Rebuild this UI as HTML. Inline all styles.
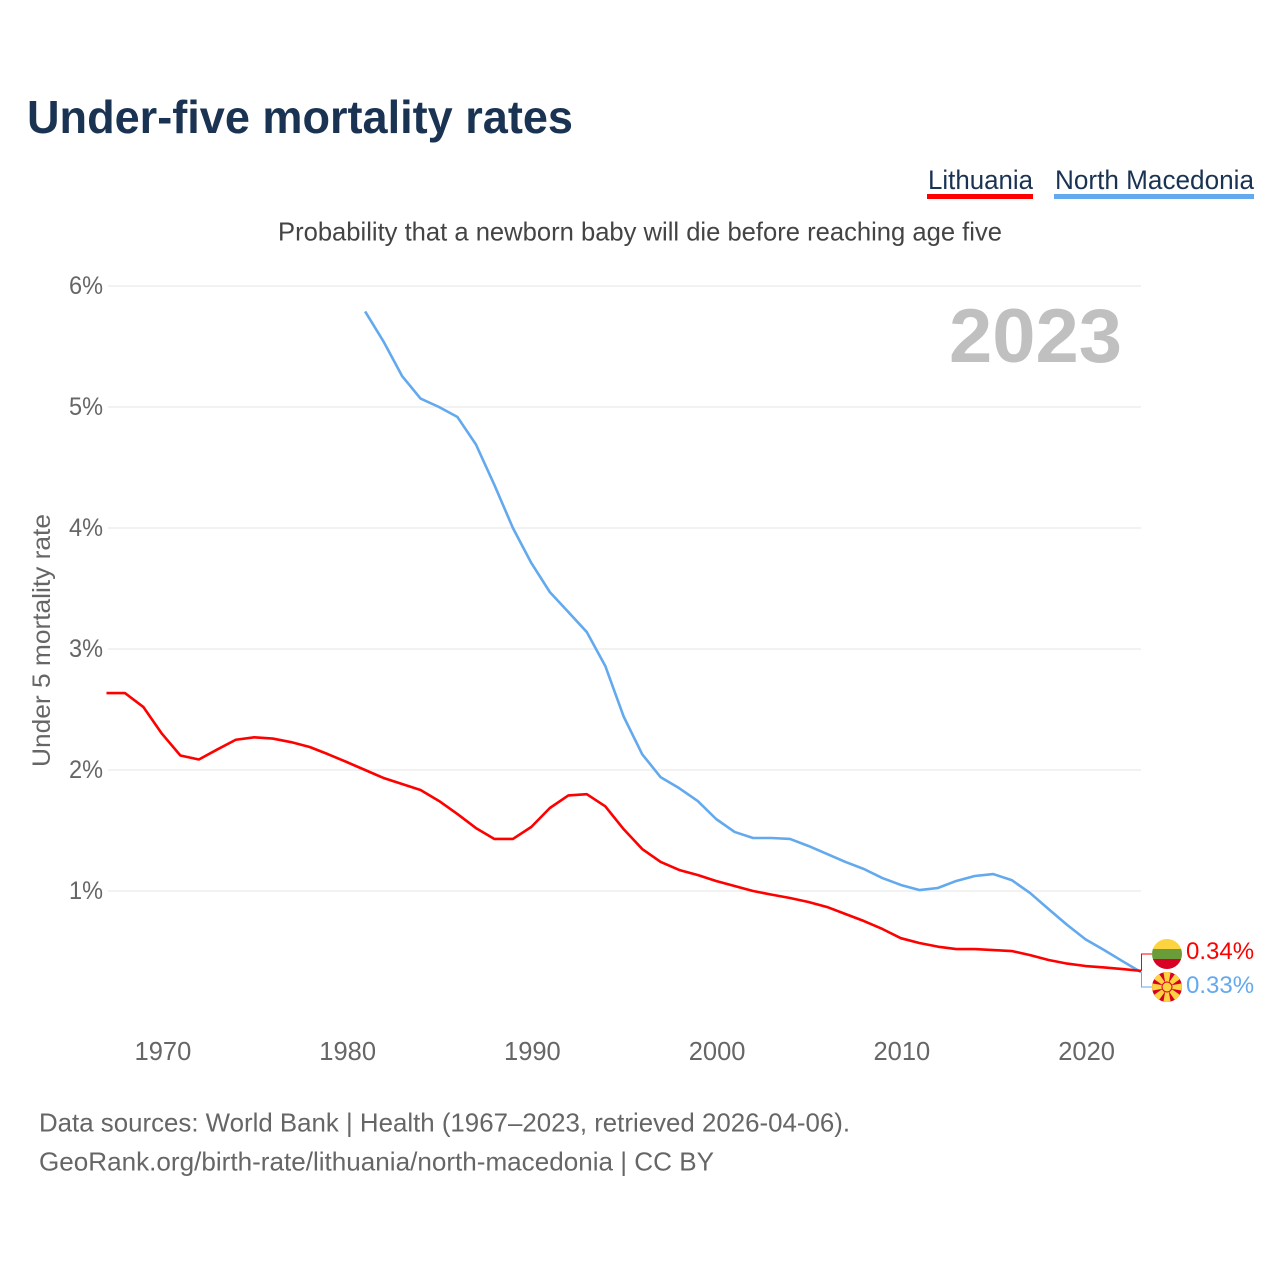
<!DOCTYPE html>
<html lang="en">
<head>
<meta charset="utf-8">
<title>Under-five mortality rates</title>
<style>
html,body{margin:0;padding:0;background:#fff;}
svg{display:block;font-family:"Liberation Sans",sans-serif;}
</style>
</head>
<body>
<svg id="chart" width="1280" height="1280" viewBox="0 0 1280 1280" xmlns="http://www.w3.org/2000/svg">
  <rect width="1280" height="1280" fill="#fff"/>
  <text x="27" y="133" font-size="46" font-weight="700" fill="#1a3353" textLength="546" lengthAdjust="spacingAndGlyphs">Under-five mortality rates</text>

  <g>
    <text x="928" y="189" font-size="27" fill="#1a3353" textLength="105" lengthAdjust="spacingAndGlyphs">Lithuania</text>
    <rect x="927" y="194" width="106" height="5" fill="#ff0000"/>
  </g>
  <g>
    <text x="1055" y="189" font-size="27" fill="#1a3353" textLength="199" lengthAdjust="spacingAndGlyphs">North Macedonia</text>
    <rect x="1054" y="194" width="200" height="5" fill="#63a9ee"/>
  </g>

  <text x="278" y="240.500" font-size="26" fill="#444" textLength="724" lengthAdjust="spacingAndGlyphs">Probability that a newborn baby will die before reaching age five</text>

  <g id="grid"></g>
  <g id="yticks"></g>
  <g id="xticks"></g>

  <text transform="translate(50,767) rotate(-90)" font-size="25" fill="#666" textLength="253" lengthAdjust="spacingAndGlyphs">Under 5 mortality rate</text>

  <text x="949" y="362" font-size="76" font-weight="700" fill="#c0c0c0" textLength="173" lengthAdjust="spacingAndGlyphs">2023</text>

  <g id="series"></g>

  <g id="end-labels">
    <path id="conn-lt" fill="none" stroke="#ff0000" stroke-width="1"/>
    <path id="conn-mk" fill="none" stroke="#63a9ee" stroke-width="1"/>
    <defs>
      <clipPath id="clip-lt"><circle cx="1167" cy="954" r="15"/></clipPath>
      <clipPath id="clip-mk"><circle cx="1167" cy="987" r="15"/></clipPath>
    </defs>
    <g clip-path="url(#clip-lt)">
      <rect x="1152" y="939" width="30" height="10" fill="#fdd33f"/>
      <rect x="1152" y="949" width="30" height="10.500" fill="#6a9d3a"/>
      <rect x="1152" y="959" width="30" height="10" fill="#d80027"/>
    </g>
    <g clip-path="url(#clip-mk)">
      <rect x="1152" y="972" width="30" height="30" fill="#d80027"/>
      <g fill="#fdd33f">
        <polygon points="1166,987 1168,987 1171,970 1163,970"/>
        <polygon points="1166,987 1168,987 1171,970 1163,970" transform="rotate(45 1167 987)"/>
        <polygon points="1166,987 1168,987 1171,970 1163,970" transform="rotate(90 1167 987)"/>
        <polygon points="1166,987 1168,987 1171,970 1163,970" transform="rotate(135 1167 987)"/>
        <polygon points="1166,987 1168,987 1171,970 1163,970" transform="rotate(180 1167 987)"/>
        <polygon points="1166,987 1168,987 1171,970 1163,970" transform="rotate(225 1167 987)"/>
        <polygon points="1166,987 1168,987 1171,970 1163,970" transform="rotate(270 1167 987)"/>
        <polygon points="1166,987 1168,987 1171,970 1163,970" transform="rotate(315 1167 987)"/>
      </g>
      <circle cx="1167" cy="987" r="5.500" fill="#d80027"/>
      <circle cx="1167" cy="987" r="4.500" fill="#fdd33f"/>
    </g>
    <text id="val-lt" x="1186" y="959" font-size="24" fill="#ff0000"></text>
    <text id="val-mk" x="1186" y="993" font-size="24" fill="#63a9ee"></text>
  </g>

  <text x="39" y="1131.500" font-size="26" fill="#666" textLength="811" lengthAdjust="spacingAndGlyphs">Data sources: World Bank | Health (1967–2023, retrieved 2026-04-06).</text>
  <text x="39" y="1170.500" font-size="26" fill="#666" textLength="675" lengthAdjust="spacingAndGlyphs">GeoRank.org/birth-rate/lithuania/north-macedonia | CC BY</text>
</svg>
<script>
const yearsLithuania = [1967,1968,1969,1970,1971,1972,1973,1974,1975,1976,1977,1978,1979,1980,1981,1982,1983,1984,1985,1986,1987,1988,1989,1990,1991,1992,1993,1994,1995,1996,1997,1998,1999,2000,2001,2002,2003,2004,2005,2006,2007,2008,2009,2010,2011,2012,2013,2014,2015,2016,2017,2018,2019,2020,2021,2022,2023];
const valuesLithuania = [2.636,2.636,2.52,2.30,2.12,2.087,2.17,2.25,2.27,2.26,2.23,2.19,2.13,2.066,2.0,1.934,1.884,1.835,1.744,1.636,1.52,1.43,1.43,1.53,1.686,1.79,1.80,1.70,1.51,1.347,1.24,1.174,1.132,1.083,1.041,1.0,0.97,0.942,0.909,0.868,0.81,0.752,0.686,0.61,0.57,0.54,0.52,0.52,0.512,0.504,0.47,0.43,0.40,0.38,0.368,0.355,0.34];
const yearsMacedonia = [1981,1982,1983,1984,1985,1986,1987,1988,1989,1990,1991,1992,1993,1994,1995,1996,1997,1998,1999,2000,2001,2002,2003,2004,2005,2006,2007,2008,2009,2010,2011,2012,2013,2014,2015,2016,2017,2018,2019,2020,2021,2022,2023];
const valuesMacedonia = [5.79,5.54,5.256,5.07,5.0,4.917,4.69,4.355,4.0,3.71,3.47,3.306,3.14,2.86,2.44,2.13,1.94,1.85,1.744,1.595,1.488,1.438,1.438,1.43,1.372,1.306,1.24,1.182,1.107,1.05,1.008,1.025,1.083,1.124,1.14,1.09,0.983,0.85,0.72,0.60,0.512,0.42,0.33];
const yTickValues = [1,2,3,4,5,6];
const xTickValues = [1970,1980,1990,2000,2010,2020];

const NS = 'http://www.w3.org/2000/svg';
const xScale = function (year) { return 106.5 + (year - 1967) * (1141 - 106.5) / 56; };
const yScale = function (v) { return 1012 - v * 121; };

function make(tag, parent) {
  const el = document.createElementNS(NS, tag);
  parent.appendChild(el);
  return el;
}

const gridG = document.getElementById('grid');
const yG = document.getElementById('yticks');
yTickValues.forEach(function (v) {
  const line = make('line', gridG);
  
  
  line.setAttribute('x1', 108);
  line.setAttribute('x2', 1141);
  line.setAttribute('y1', yScale(v));
  line.setAttribute('y2', yScale(v));
  line.setAttribute('stroke', '#eeeeee');
  line.setAttribute('stroke-width', '1.5');
  const t = make('text', yG);
  
  
  t.setAttribute('x', 69);
  t.setAttribute('y', yScale(v) + 8);
  t.setAttribute('font-size', '25');
  t.setAttribute('fill', '#666');
  t.setAttribute('textLength', '34');
  t.setAttribute('lengthAdjust', 'spacingAndGlyphs');
  t.textContent = v + '%';
});

const xG = document.getElementById('xticks');
xTickValues.forEach(function (year) {
  const t = make('text', xG);
  
  
  t.setAttribute('x', xScale(year) + 1);
  t.setAttribute('y', 1060);
  t.setAttribute('font-size', '25.5');
  t.setAttribute('fill', '#666');
  t.setAttribute('text-anchor', 'middle');
  t.textContent = year;
});

function points(years, values) {
  return years.map(function (y, i) {
    return xScale(y).toFixed(2) + ',' + yScale(values[i]).toFixed(2);
  }).join(' ');
}

const seriesG = document.getElementById('series');
const blueLine = make('polyline', seriesG);


blueLine.setAttribute('points', points(yearsMacedonia, valuesMacedonia));
blueLine.setAttribute('fill', 'none');
blueLine.setAttribute('stroke', '#63a9ee');
blueLine.setAttribute('stroke-width', '2.6');
blueLine.setAttribute('stroke-linejoin', 'round');
const redLine = make('polyline', seriesG);


redLine.setAttribute('points', points(yearsLithuania, valuesLithuania));
redLine.setAttribute('fill', 'none');
redLine.setAttribute('stroke', '#ff0000');
redLine.setAttribute('stroke-width', '2.6');
redLine.setAttribute('stroke-linejoin', 'round');

const lastLt = valuesLithuania[valuesLithuania.length - 1];
const lastMk = valuesMacedonia[valuesMacedonia.length - 1];
const endX = xScale(2023) + 0.5;
document.getElementById('conn-lt').setAttribute('d', 'M' + endX + ' ' + yScale(lastLt) + ' V954 H1152');
document.getElementById('conn-mk').setAttribute('d', 'M' + endX + ' ' + yScale(lastMk) + ' V987 H1152');
document.getElementById('val-lt').textContent = lastLt.toFixed(2) + '%';
document.getElementById('val-mk').textContent = lastMk.toFixed(2) + '%';
</script>
</body>
</html>
